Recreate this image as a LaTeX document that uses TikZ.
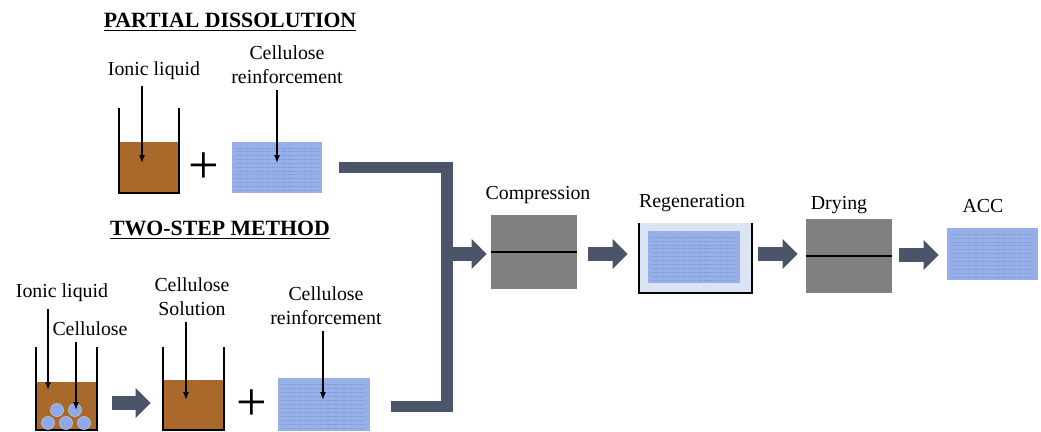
\documentclass[tikz,border=0pt]{standalone}
\usepackage{fontspec}
\setmainfont{Liberation Serif}
\usetikzlibrary{arrows.meta,calc}
\definecolor{liquid}{HTML}{A9692B}
\definecolor{fibre}{HTML}{98B0E8}
\definecolor{fibreline}{HTML}{8198D8}
\definecolor{flow}{HTML}{4B5469}
\definecolor{press}{HTML}{808080}
\definecolor{bath}{HTML}{DCE3F4}
\tikzset{
  lbl/.style={font=\fontsize{11.3}{13.6}\selectfont, align=center, inner sep=1pt},
  heading/.style={font=\fontsize{12.4}{14}\selectfont\bfseries, inner sep=1pt},
  plus/.style={font=\fontsize{31}{31}\selectfont, inner sep=0pt},
  ptr/.style={-{Latex[length=4.5pt,width=3.4pt]}, line width=0.8pt, shorten <=2.5pt},
  wall/.style={line width=1.1pt},
  liq/.style={fill=liquid, inner sep=0pt},
  fatarrow/.style={color=flow, line width=8pt, -{Triangle[width=16.5pt,length=8.5pt]}},
  fibrebox/.style={fill=fibre, inner sep=0pt, path picture={
      \foreach \k in {0.06,0.135,...,0.9}
        \draw[fibreline, line width=0.3pt, dash pattern=on 0.6pt off 0.4pt]
          ($(path picture bounding box.south west)!\k!(path picture bounding box.north west)+(0.06cm,0)$) -- ++(1.68cm,0);}},
  pressbox/.style={fill=press, inner sep=0pt, minimum width=1.72cm, minimum height=1.48cm},
}
\begin{document}
\begin{tikzpicture}[x=0.02cm,y=-0.02cm]
  \useasboundingbox (0,0) rectangle (1041,432);

  % partial dissolution
  \node[heading] (titleA) at (230,22) {\underline{PARTIAL DISSOLUTION}};
  \node[liq, minimum width=1.2cm, minimum height=1.02cm] (liqA) at (149,167.5) {};
  \draw[wall] ($(liqA.north west)+(0,-34)$) -- (liqA.south west) -- (liqA.south east) -- ($(liqA.north east)+(0,-34)$);
  \node[lbl] (ionicA) at (154,71) {Ionic liquid};
  \coordinate (tipA) at (142,163);
  \draw[ptr] (ionicA.south -| tipA) -- (tipA);
  \node[plus] (plusA) at (204,168) {+};
  \node[fibrebox, minimum width=1.8cm, minimum height=1.02cm] (reinfA) at (277,167.5) {};
  \node[lbl] (reinfLblA) at (287,65) {Cellulose\\reinforcement};
  \coordinate (tipB) at (277,163);
  \draw[ptr] (reinfLblA.south -| tipB) -- (tipB);

  % two-step method
  \node[heading] (titleB) at (220,230) {\underline{TWO-STEP METHOD}};
  \node[liq, minimum width=1.22cm, minimum height=0.96cm] (liqC) at (66.5,406) {};
  \draw[wall] ($(liqC.north west)+(0,-35)$) -- (liqC.south west) -- (liqC.south east) -- ($(liqC.north east)+(0,-35)$);
  \foreach \cx/\cy in {48/423,66/423,84/423,57/410,75/410}
    \filldraw[fill=fibre!95!blue, draw=fibre!60!white, line width=0.3pt] (\cx,\cy) circle[radius=0.13cm];
  \node[lbl] (ionicC) at (62,293) {Ionic liquid};
  \coordinate (tipC) at (48,390);
  \draw[ptr] (ionicC.south -| tipC) -- (tipC);
  \node[lbl] (fibreLbl) at (90,329) {Cellulose};
  \coordinate (tipD) at (76,410);
  \draw[ptr] (fibreLbl.south -| tipD) -- (tipD);

  \node[liq, minimum width=1.22cm, minimum height=1.0cm] (liqE) at (193.5,405) {};
  \draw[wall] ($(liqE.north west)+(0,-33)$) -- (liqE.south west) -- (liqE.south east) -- ($(liqE.north east)+(0,-33)$);
  \draw[fatarrow] ($(liqC.east)+(15,-3)$) -- ($(liqE.west)+(-12,-2)$);
  \node[lbl] (solLbl) at (192,297) {Cellulose\\Solution};
  \coordinate (tipE) at (186,400);
  \draw[ptr] (solLbl.south -| tipE) -- (tipE);
  \node[plus] (plusB) at (252,405) {+};
  \node[fibrebox, minimum width=1.84cm, minimum height=1.06cm] (reinfB) at (324,404.5) {};
  \node[lbl] (reinfLblB) at (326,306) {Cellulose\\reinforcement};
  \coordinate (tipF) at (323,400);
  \draw[ptr] (reinfLblB.south -| tipF) -- (tipF);

  % merging bar
  \coordinate (spine) at (447,254);
  \draw[flow, line width=6.8pt, line join=miter] ($(reinfA.east)+(17,0)$) -| (spine) |- ($(reinfB.east)+(21,2)$);

  % process steps
  \node[pressbox] (compress) at (534,252) {};
  \draw[line width=1.4pt] (compress.west) -- (compress.east);
  \node[lbl] (compressLbl) at (538,195) {Compression};
  \draw[fatarrow] (spine) -- ($(compress.west)+(-4,2)$);

  \node[fill=bath, inner sep=0pt, minimum width=2.26cm, minimum height=1.4cm] (bathbox) at (695.5,258) {};
  \node[fibrebox, minimum width=1.84cm, minimum height=1.04cm] (regen) at (694,257) {};
  \draw[wall] (bathbox.north west) -- (bathbox.south west) -- (bathbox.south east) -- (bathbox.north east);
  \node[lbl] (regenLbl) at (692,203) {Regeneration};
  \draw[fatarrow] ($(compress.east)+(11,2)$) -- ($(bathbox.west)+(-11,-4)$);

  \node[pressbox] (dry) at (849,256) {};
  \draw[line width=1.4pt] (dry.west) -- (dry.east);
  \node[lbl] (dryLbl) at (839,205) {Drying};
  \draw[fatarrow] ($(bathbox.east)+(6,-4)$) -- ($(dry.west)+(-8,-2)$);

  \node[fibrebox, minimum width=1.82cm, minimum height=1.04cm] (acc) at (992.5,254) {};
  \node[lbl] (accLbl) at (983,206) {ACC};
  \draw[fatarrow] ($(dry.east)+(7,-1)$) -- ($(acc.west)+(-8,1)$);
\end{tikzpicture}
\end{document}
